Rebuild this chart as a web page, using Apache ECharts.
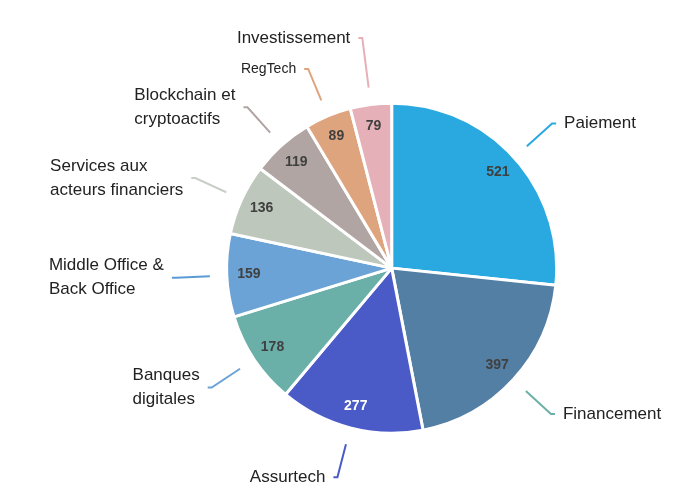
<!DOCTYPE html>
<html>
<head>
<meta charset="utf-8">
<script src="https://cdn.jsdelivr.net/npm/echarts@6/dist/echarts.min.js"></script>
<style>
  html, body { margin: 0; padding: 0; background: #fff; }
  #chart { width: 680px; height: 504px; }
</style>
</head>
<body>
<div id="chart"></div>
<script>
// Segments, clockwise from the top
var categories = ['Paiement', 'Financement', 'Assurtech', 'Banques\ndigitales', 'Middle Office &\nBack Office',
    'Services aux\nacteurs financiers', 'Blockchain et\ncryptoactifs', 'RegTech', 'Investissement'];
var values = [521, 397, 277, 178, 159, 136, 119, 89, 79];
var sliceColors = ['#29a9e0', '#547fa4', '#4a5bc8', '#6ab0a8', '#6ba3d6', '#bec7bc', '#b0a5a3', '#dea47e', '#e5b0b7'];
var lineColors = ['#29a9e0', '#6ab0a8', '#4a5bc8', '#6ba3d6', '#5b9bd5', '#c8cfc6', '#b0a5a3', '#dea47e', '#e5b0b7'];
var valueColors = ['#404040', '#404040', '#ffffff', '#404040', '#404040', '#404040', '#404040', '#404040', '#404040'];
var lineLengths = [34, 34, 34, 34, 34, 34, 34, 34, 50];

var chart = echarts.init(document.getElementById('chart'));
var center = ['57.6%', '53.2%'];
var font = 'Liberation Sans, Arial, sans-serif';

var sliceData = values.map(function (v, i) {
    return { name: categories[i], value: v, itemStyle: { color: sliceColors[i] } };
});

var valueData = values.map(function (v, i) {
    return { name: categories[i], value: v, label: { color: valueColors[i] } };
});

var nameData = values.map(function (v, i) {
    return {
        name: categories[i],
        value: v,
        labelLine: { length: lineLengths[i], lineStyle: { color: lineColors[i] } },
        label: { rich: { n: { fontSize: i === 7 ? 14 : 17, lineHeight: 24, align: 'left', color: '#222', fontFamily: font } } }
    };
});

var option = {
    animation: false,
    series: [
        {
            // visible pie
            type: 'pie',
            center: center,
            radius: 165,
            startAngle: 90,
            clockwise: true,
            itemStyle: { borderColor: '#fff', borderWidth: 3 },
            label: { show: false },
            labelLine: { show: false },
            emphasis: { disabled: true },
            data: sliceData
        },
        {
            // transparent ring carrying the value labels near the rim
            type: 'pie',
            center: center,
            radius: [115, 165],
            startAngle: 90,
            clockwise: true,
            silent: true,
            itemStyle: { color: 'rgba(0,0,0,0)' },
            label: {
                position: 'inside',
                formatter: '{c}',
                fontFamily: font,
                fontWeight: 'bold',
                fontSize: 14
            },
            labelLine: { show: false },
            data: valueData
        },
        {
            // transparent ring carrying the detached name labels
            type: 'pie',
            center: center,
            radius: 182,
            startAngle: 90,
            clockwise: true,
            silent: true,
            itemStyle: { color: 'rgba(0,0,0,0)' },
            label: {
                formatter: function (p) {
                    return p.name.split('\n').map(function (s) { return '{n|' + s + '}'; }).join('\n');
                },
                distanceToLabelLine: 8
            },
            labelLine: {
                length2: 4,
                lineStyle: { width: 2 }
            },
            data: nameData
        }
    ]
};

chart.setOption(option);
</script>
</body>
</html>
